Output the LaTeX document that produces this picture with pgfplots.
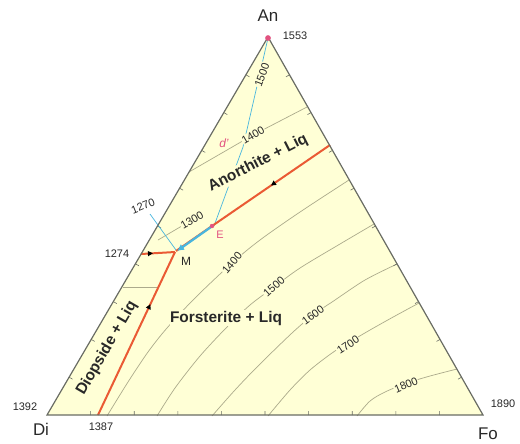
\documentclass[border=0pt]{standalone}
\usepackage{fontspec}
\setmainfont{Liberation Sans}
\usepackage{pgfplots}
\pgfplotsset{compat=1.18}
\usetikzlibrary{decorations.markings,arrows.meta}

\definecolor{triyellow}{RGB}{255,255,214}
\definecolor{edgegray}{RGB}{105,108,100}
\definecolor{isoline}{RGB}{172,170,140}
\definecolor{cotred}{RGB}{234,90,52}
\definecolor{pathcyan}{RGB}{72,182,222}
\definecolor{ptpink}{RGB}{226,82,128}
\definecolor{txt}{RGB}{40,40,40}

\tikzset{
  midarrow/.style={postaction={decorate},
    decoration={markings, mark=at position #1 with {\arrow[black]{Triangle[length=5pt,width=5pt]}}}},
  iso/.style={draw=isoline, line width=0.7pt},
  num/.style={font=\fontsize{11}{12}\selectfont, text=txt, fill=triyellow, inner sep=0.6pt},
  numout/.style={font=\fontsize{11}{12}\selectfont, text=txt, inner sep=0.5pt},
  region/.style={font=\fontsize{15.5}{17}\selectfont\bfseries, text=txt, fill=triyellow, inner sep=0.5pt},
  corner/.style={font=\fontsize{17}{19}\selectfont, text=txt},
}

\begin{document}
\begin{tikzpicture}
\begin{axis}[
  scale only axis, width=520bp, height=442bp,
  xmin=0, xmax=520, ymin=0, ymax=442, y dir=reverse,
  hide axis, clip=false]

% page frame
\addplot[draw=none] coordinates {(0,0) (520,442)};

% triangle Di-Fo-An
\addplot[fill=triyellow, draw=none] coordinates {(47,415) (483,415) (268,37)} -- cycle;

% isotherms, forsterite field
\addplot[iso, smooth] coordinates {(107,416) (128,382) (148,352) (167,328) (195,298) (232,263) (260,240) (300,212) (349,180)};
\addplot[iso, smooth] coordinates {(157,416) (175,388) (200,356) (227,327) (250,305) (274,287) (300,268) (340,244) (374,224)};
\addplot[iso, smooth] coordinates {(212,416) (235,390) (258,366) (292,333) (313,315) (335,300) (365,280) (397,264)};
\addplot[iso, smooth] coordinates {(268,416) (290,390) (310,370) (332,353) (348,343) (370,330) (395,316) (419,303)};
\addplot[iso, smooth] coordinates {(357,416) (370,401) (385,392) (407,383) (430,376) (457,369)};
% isotherms, anorthite and diopside fields
\addplot[iso] coordinates {(189,172) (253,135) (307,107)};
\addplot[iso] coordinates {(158,240) (192,220)};
\addplot[iso] coordinates {(123,287) (158,287)};

% edge ticks
\addplot[draw=edgegray, line width=0.6pt, unbounded coords=jump] coordinates {
 (90.6,415)(90.6,411) (nan,nan) (134.2,415)(134.2,411) (nan,nan) (177.8,415)(177.8,411) (nan,nan)
 (221.4,415)(221.4,411) (nan,nan) (265,415)(265,411) (nan,nan) (308.6,415)(308.6,411) (nan,nan)
 (352.2,415)(352.2,411) (nan,nan) (395.8,415)(395.8,411) (nan,nan) (439.4,415)(439.4,411) (nan,nan)
 (69.1,377.2)(72.6,379.2) (nan,nan) (91.2,339.4)(94.7,341.4) (nan,nan) (113.3,301.6)(116.8,303.6) (nan,nan)
 (135.4,263.8)(138.9,265.8) (nan,nan) (157.5,226)(161,228) (nan,nan) (179.6,188.2)(183.1,190.2) (nan,nan)
 (201.7,150.4)(205.2,152.4) (nan,nan) (223.8,112.6)(227.3,114.6) (nan,nan) (245.9,74.8)(249.4,76.8) (nan,nan)
 (461.5,377.2)(458,379.2) (nan,nan) (440,339.4)(436.5,341.4) (nan,nan) (418.5,301.6)(415,303.6) (nan,nan)
 (397,263.8)(393.5,265.8) (nan,nan) (375.5,226)(372,228) (nan,nan) (354,188.2)(350.5,190.2) (nan,nan)
 (332.5,150.4)(329,152.4) (nan,nan) (311,112.6)(307.5,114.6) (nan,nan) (289.5,74.8)(286,76.8)};

% thin cyan construction lines
\addplot[pathcyan, line width=0.7pt] coordinates {(268,38) (243,147) (214,226)};
\addplot[pathcyan, line width=0.7pt] coordinates {(150,214) (176,250)};

% cotectic boundaries
\addplot[cotred, line width=2pt, midarrow=0.68] coordinates {(98,415) (175,252)};
\addplot[cotred, line width=2pt, midarrow=0.35] coordinates {(141,254) (175,252)};
\addplot[cotred, line width=2pt, midarrow=0.5] coordinates {(330,145) (212,226)};
\addplot[cotred, line width=2pt] coordinates {(212,226) (176,251)};

% crystallisation path E -> M
\addplot[pathcyan, line width=2.2pt, -{Latex[length=7pt,width=7pt]}] coordinates {(211,227) (177,251)};

% triangle outline
\addplot[draw=edgegray, line width=1.2pt] coordinates {(47,415) (483,415) (268,37)} -- cycle;

% points
\addplot[only marks, mark=*, mark size=2.6pt, ptpink] coordinates {(268,38)};
\addplot[only marks, mark=*, mark size=2pt, ptpink] coordinates {(212,226)};

% corner labels
\node[corner] at (268,16) {An};
\node[corner] at (41,429) {Di};
\node[corner] at (488,434) {Fo};
\node[numout] at (295,36) {1553};
\node[numout] at (25,407) {1392};
\node[numout] at (101,427) {1387};
\node[numout] at (503,404) {1890};
\node[numout] at (117,254) {1274};
\node[numout, rotate=22] at (143,206) {1270};

% isotherm labels
\node[num, rotate=70] at (262,75) {1500};
\node[num, rotate=30] at (253,135) {1400};
\node[num, rotate=30] at (192,220) {1300};
\node[num, rotate=50] at (232,263) {1400};
\node[num, rotate=42] at (274,287) {1500};
\node[num, rotate=36] at (313,315) {1600};
\node[num, rotate=34] at (348,345) {1700};
\node[num, rotate=23] at (406,385) {1800};

% field labels
\node[region, rotate=27] at (258,163) {Anorthite + Liq};
\node[region] at (226,318) {Forsterite + Liq};
\node[region, rotate=60] at (107,348) {Diopside + Liq};

% point labels
\node[font=\fontsize{12}{13}\selectfont, text=txt] at (186,261) {M};
\node[font=\fontsize{12}{13}\selectfont\itshape, text=ptpink] at (224,143) {d'};
\node[font=\fontsize{11}{12}\selectfont, text=ptpink] at (220,235) {E};

\end{axis}
\end{tikzpicture}
\end{document}
